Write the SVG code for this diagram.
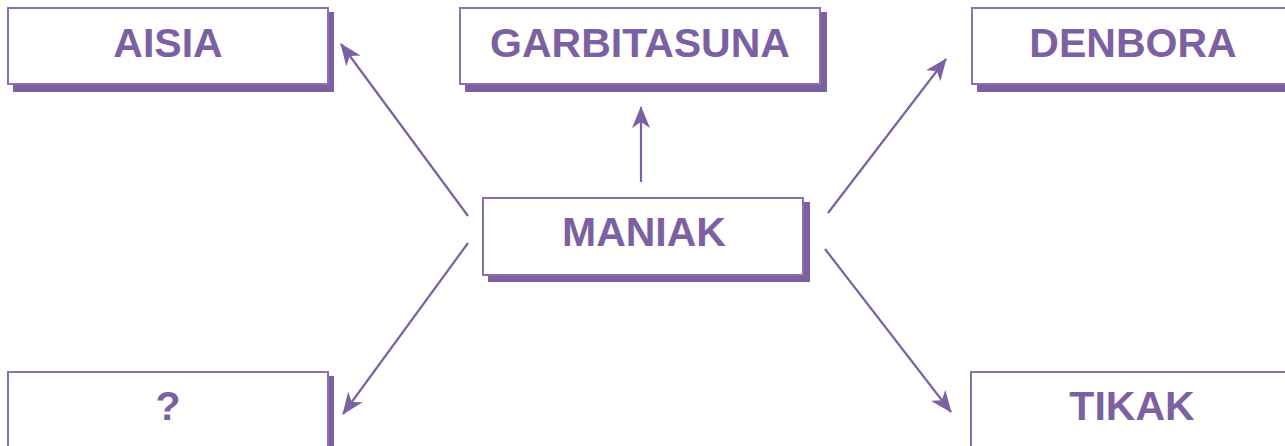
<svg xmlns="http://www.w3.org/2000/svg" width="1285" height="446" viewBox="0 0 1285 446">
<style>
.shadow{fill:#7c61a2}
.box{fill:#ffffff;stroke:#8a70ad;stroke-width:2}
.label{font-family:"Liberation Sans",Arial,sans-serif;font-weight:700;font-size:41px;fill:#7c61a2;text-anchor:middle}
.conn{stroke:#7c61a2;stroke-width:2.2;fill:none;marker-end:url(#arr)}
</style>
<defs>
<marker id="arr" markerUnits="userSpaceOnUse" markerWidth="22" markerHeight="18" viewBox="0 0 22 18" refX="21" refY="9" orient="auto">
<path d="M0,0 L22,9 L0,18 L6,9 Z" fill="#7c61a2"/>
</marker>
</defs>
<rect width="1285" height="446" fill="#ffffff"/>
<g id="connectors">
<line class="conn" x1="468" y1="216" x2="341" y2="44"/>
<line class="conn" x1="641" y1="182" x2="641" y2="107"/>
<line class="conn" x1="828" y1="213" x2="946" y2="59"/>
<line class="conn" x1="468" y1="243" x2="343" y2="414"/>
<line class="conn" x1="825" y1="249" x2="951" y2="412"/>
</g>
<g id="aisia">
<rect class="shadow" x="13" y="12" width="321" height="80"/>
<rect class="box" x="8" y="8" width="320" height="76"/>
<text class="label" x="168" y="57">AISIA</text>
</g>
<g id="garbitasuna">
<rect class="shadow" x="465" y="12" width="362" height="80"/>
<rect class="box" x="460" y="8" width="360" height="76"/>
<text class="label" x="640" y="57">GARBITASUNA</text>
</g>
<g id="denbora">
<rect class="shadow" x="977" y="12" width="321" height="80"/>
<rect class="box" x="972" y="8" width="320" height="76"/>
<text class="label" x="1133" y="57">DENBORA</text>
</g>
<g id="maniak">
<rect class="shadow" x="488" y="202" width="322" height="80"/>
<rect class="box" x="483" y="198" width="320" height="77"/>
<text class="label" x="644" y="246">MANIAK</text>
</g>
<g id="question">
<rect class="shadow" x="13" y="376" width="321" height="80"/>
<rect class="box" x="8" y="372" width="320" height="76"/>
<text class="label" x="168" y="420">?</text>
</g>
<g id="tikak">
<rect class="shadow" x="976" y="376" width="321" height="80"/>
<rect class="box" x="971" y="372" width="320" height="76"/>
<text class="label" x="1132" y="420">TIKAK</text>
</g>
</svg>
